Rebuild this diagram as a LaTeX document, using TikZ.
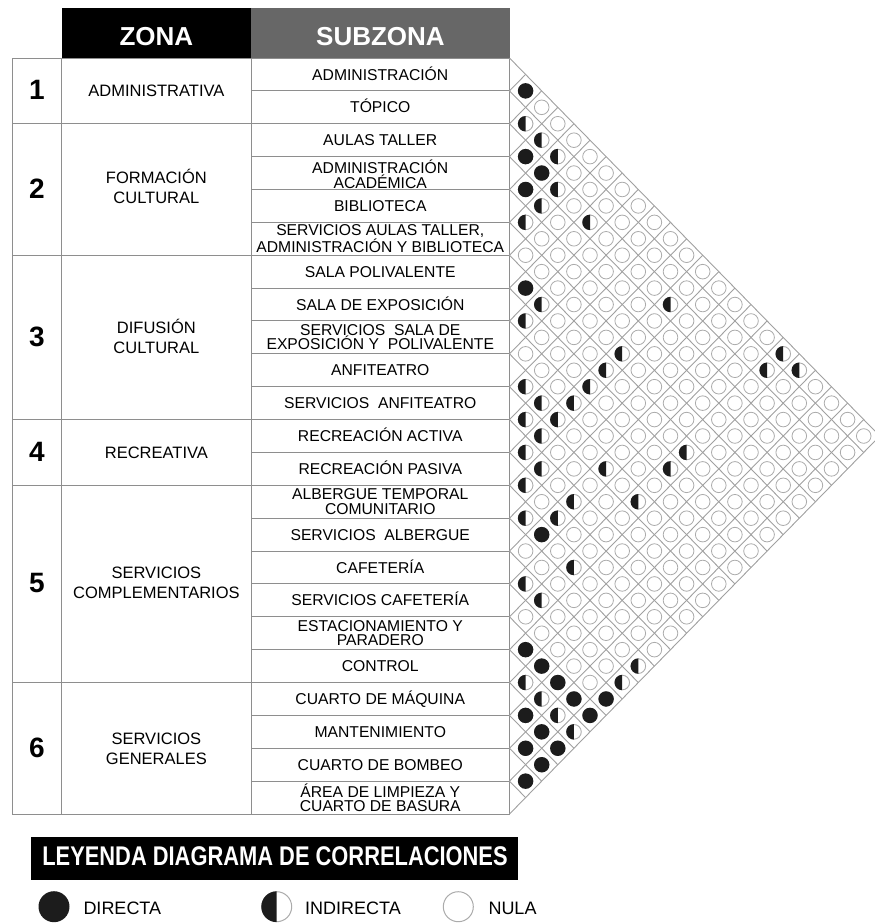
\documentclass[tikz,border=0pt]{standalone}
\usepackage{fontspec}
\setmainfont{Liberation Sans}
\usepackage{graphicx}
\definecolor{gridc}{HTML}{A0A0A0}
\definecolor{tablec}{HTML}{8E8E8E}
\definecolor{circc}{HTML}{ABABAB}
\definecolor{darkc}{HTML}{1C1C1C}
\definecolor{hdrgrey}{HTML}{676767}
\begin{document}
\begin{tikzpicture}[x=1pt,y=-1pt,
  gridline/.style={draw=gridc,line width=0.9pt},
  tline/.style={draw=tablec,line width=1pt},
  nulac/.style={draw=circc,line width=0.8pt,fill=white},
  subz/.style={anchor=base,inner sep=0pt,font=\fontsize{15.7}{13.5}\selectfont},
  subzz/.style={anchor=center,inner sep=0pt,align=center},
  zonat/.style={inner sep=0pt,align=center,font=\fontsize{16.5}{20}\selectfont},
  numt/.style={anchor=base,inner sep=0pt,font=\fontsize{28}{28}\selectfont\bfseries},
  hdrt/.style={anchor=base,inner sep=0pt,text=white,font=\fontsize{26}{26}\selectfont\bfseries},
  legt/.style={anchor=base west,inner sep=0pt,font=\fontsize{18}{18}\selectfont}
]
\useasboundingbox (0,0) rectangle (875,924);
\clip (0,0) rectangle (875,924);
\def\xo{509.5}
\def\yo{58}
\def\hh{32.87}
\def\sx{16.1}
\def\sy{16.435}

% header
\fill[black] (61.7,8) rectangle (251,57.7);
\fill[hdrgrey] (251,8) rectangle (510,57.7);
\node[hdrt] (hz) at (156.4,45) {ZONA};
\node[hdrt] (hs) at (380.5,45) {SUBZONA};

% table lines
\draw[tline] (12.7,58) rectangle (\xo,{\yo+23*\hh});
\draw[tline] (61.7,58) -- (61.7,{\yo+23*\hh});
\draw[tline] (251,58) -- (251,{\yo+23*\hh});
\foreach \k in {2,6,11,13,19}
  \draw[tline] (12.7,{\yo+\k*\hh}) -- (251,{\yo+\k*\hh});
\foreach \k in {1,...,22}
  \draw[tline] (251,{\yo+\k*\hh}) -- (\xo,{\yo+\k*\hh});

% diamond grid
\foreach \k in {0,...,23} {
  \draw[gridline] (\xo,{\yo+\k*\hh}) -- ++({(23-\k)*\sx},{(23-\k)*\sy});
  \draw[gridline] (\xo,{\yo+\k*\hh}) -- ++({\k*\sx},{-\k*\sy});
}

% empty circles everywhere
\foreach \i in {1,...,22} {
  \pgfmathtruncatemacro\ip{\i+1}
  \foreach \j in {\ip,...,23}
    \draw[nulac] ({\xo+(\j-\i)*\sx},{\yo+(\i+\j-1)*\sy}) circle (7.3);
}
% full circles
\foreach \i/\j in {1/2,3/4,3/5,4/5,7/8,14/16,17/23,18/19,18/20,18/21,18/22,18/23,20/21,20/22,20/23,21/22,21/23,22/23}
  \fill[darkc] ({\xo+(\j-\i)*\sx},{\yo+(\i+\j-1)*\sy}) circle (7.7);
% half circles
\foreach \i/\j in {2/3,2/4,2/5,3/6,4/6,5/6,3/8,7/9,8/9,3/13,6/13,7/13,8/13,9/13,10/13,11/13,12/13,10/11,10/12,11/12,12/14,13/14,14/15,10/16,12/16,13/16,16/17,7/18,8/18,10/18,14/18,16/18,1/18,2/18,1/19,19/20,19/21,19/22,19/23,15/23,16/23} {
  \coordinate (c) at ({\xo+(\j-\i)*\sx},{\yo+(\i+\j-1)*\sy});
  \fill[white] (c) circle (7.7);
  \draw[draw=circc,line width=0.8pt] (c) circle (7.3);
  \fill[darkc] (c) ++(0,7.7) arc (90:270:7.7) -- cycle;
}

% numbers
\foreach \n/\c in {1/1,2/4,3/8.5,4/12,5/16,6/21}
  \node[numt] (n\n) at (37,{\yo+\c*\hh+9}) {\n};

% zona texts
\node[zonat] (z1) at (156.4,{\yo+1*\hh}) {ADMINISTRATIVA};
\node[zonat] (z2) at (156.4,{\yo+4*\hh-3}) {FORMACIÓN\\CULTURAL};
\node[zonat] (z3) at (156.4,{\yo+8.5*\hh-1}) {DIFUSIÓN\\CULTURAL};
\node[zonat] (z4) at (156.4,{\yo+12*\hh}) {RECREATIVA};
\node[zonat] (z5) at (156.4,{\yo+16*\hh-1}) {SERVICIOS\\COMPLEMENTARIOS};
\node[zonat] (z6) at (156.4,{\yo+21*\hh+1}) {SERVICIOS\\GENERALES};

% subzona texts (single line)
\foreach \k/\t in {1/ADMINISTRACIÓN,2/TÓPICO,3/AULAS TALLER,5/BIBLIOTECA,7/SALA POLIVALENTE,8/SALA DE EXPOSICIÓN,10/ANFITEATRO,11/{SERVICIOS\ \ ANFITEATRO},12/RECREACIÓN ACTIVA,13/RECREACIÓN PASIVA,15/{SERVICIOS\ \ ALBERGUE},16/CAFETERÍA,17/SERVICIOS CAFETERÍA,19/CONTROL,20/CUARTO DE MÁQUINA,21/MANTENIMIENTO,22/CUARTO DE BOMBEO}
  \node[subz] (s\k) at (380.25,{\yo+(\k-0.5)*\hh+5.6}) {\t};
% subzona texts (two lines)
\node[subzz,font=\fontsize{15.7}{15}\selectfont] (s4) at (380.25,{\yo+3.5*\hh+1}) {ADMINISTRACIÓN\\ACADÉMICA};
\node[subzz,font=\fontsize{15.7}{14.2}\selectfont] (s6) at (380.25,{\yo+5.5*\hh}) {SERVICIOS AULAS TALLER,\\ADMINISTRACIÓN Y BIBLIOTECA};
\node[subzz,font=\fontsize{15.7}{14.2}\selectfont] (s9) at (380.25,{\yo+8.5*\hh}) {SERVICIOS\ \ SALA DE\\EXPOSICIÓN Y\ \ POLIVALENTE};
\node[subzz,font=\fontsize{15.7}{14.5}\selectfont] (s14) at (380.25,{\yo+13.5*\hh}) {ALBERGUE TEMPORAL\\COMUNITARIO};
\node[subzz,font=\fontsize{15.7}{14.5}\selectfont] (s18) at (380.25,{\yo+17.5*\hh}) {ESTACIONAMIENTO Y\\PARADERO};
\node[subzz,font=\fontsize{15.7}{14.5}\selectfont] (s23) at (380.25,{\yo+22.5*\hh}) {ÁREA DE LIMPIEZA Y\\CUARTO DE BASURA};

% legend
\fill[black] (31,836.7) rectangle (518,880);
\node[inner sep=0pt,text=white,anchor=base] (lt) at (275,865) {\scalebox{0.81}[1]{\fontsize{27}{27}\selectfont\bfseries LEYENDA DIAGRAMA DE CORRELACIONES}};
\fill[darkc] (54,906.7) circle (15.5);
\draw[draw=circc,line width=1pt] (276.7,906.7) circle (15);
\fill[darkc] (276.7,906.7) ++(0,15.4) arc (90:270:15.4) -- cycle;
\draw[draw=circc,line width=1pt] (458.3,906.7) circle (15);
\node[legt] (ld) at (83.3,914.3) {DIRECTA};
\node[legt] (li) at (305,914.3) {INDIRECTA};
\node[legt] (ln) at (488.3,914.3) {NULA};
\end{tikzpicture}
\end{document}
